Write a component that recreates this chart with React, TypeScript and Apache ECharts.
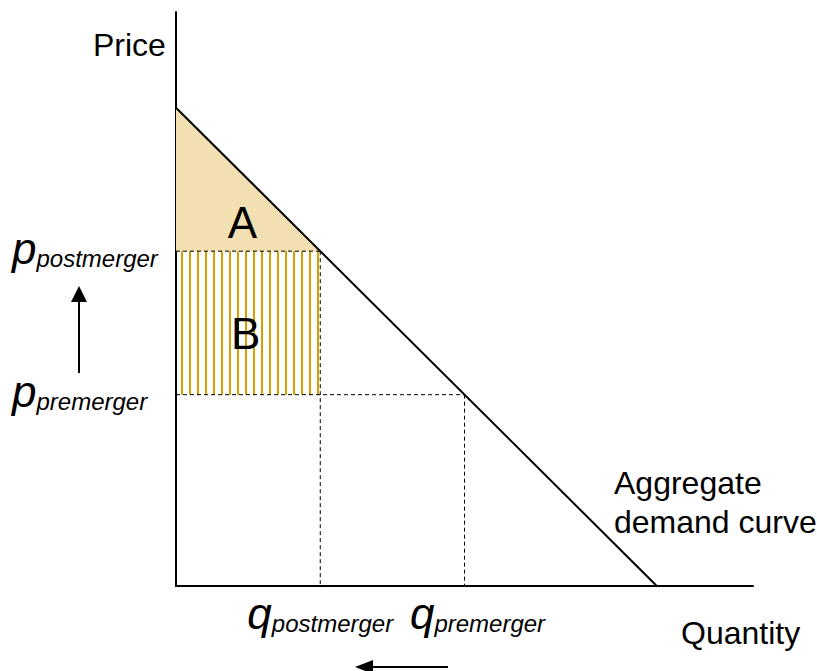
import React, { useEffect, useRef } from 'react';
import * as echarts from 'echarts';

// ---- data (model units) ----
const demandCurve: number[][] = [[0, 10], [10, 0]];
const axisMax = 12;
const priceLabels: Record<number, string> = { 4: 'premerger', 7: 'postmerger' };
const quantityLabels: Record<number, string> = { 3: 'postmerger', 6: 'premerger' };
const areaA: number[][] = [[0, 10], [3, 7], [0, 7]];
const areaB: number[][] = [[0, 7], [3, 4]];
const dashedSegments: number[][][] = [
  [[0, 7], [3, 7]],
  [[3, 7], [3, 0]],
  [[0, 4], [6, 4]],
  [[6, 4], [6, 0]],
];
const areaNames = ['A', 'B'];
const areaNamePos: number[][] = [[1.38, 7.6], [1.45, 5.27]];

const FONT = '"Liberation Sans", Arial, Helvetica, sans-serif';
const FILL_A = '#F2E0B3';
const HATCH = '#D4A000';

export default function App() {
  const ref = useRef<HTMLDivElement>(null);
  useEffect(() => {
    if (!ref.current) return;
    const chart = echarts.init(ref.current, undefined, { renderer: 'svg' });

    const mainStyle = { fontSize: 44, fontStyle: 'italic', fontFamily: FONT, color: '#000', lineHeight: 44 };
    const subStyle = { fontSize: 24, fontStyle: 'italic', fontFamily: FONT, color: '#000', lineHeight: 24, verticalAlign: 'bottom' };

    const option: any = {
      animation: false,
      backgroundColor: '#fff',
      grid: { left: 176, top: 12, width: 577, height: 574, containLabel: false },
      xAxis: {
        type: 'value', min: 0, max: axisMax, interval: 1,
        axisLine: { show: true, onZero: false, lineStyle: { color: '#000', width: 2 } },
        axisTick: { show: false },
        splitLine: { show: false },
        axisLabel: {
          margin: 5,
          formatter: (v: number) => {
            const s = quantityLabels[v];
            if (!s) return '';
            return (v === 6 ? '{g| }' : '') + `{m|q}{s|${s}}`;
          },
          rich: { m: mainStyle, s: subStyle, g: { width: 26, fontSize: 10 } },
        },
      },
      yAxis: {
        type: 'value', min: 0, max: axisMax, interval: 1,
        axisLine: { show: true, onZero: false, lineStyle: { color: '#000', width: 2 } },
        axisTick: { show: false },
        splitLine: { show: false },
        axisLabel: {
          margin: 164,
          align: 'left',
          formatter: (v: number) => {
            const s = priceLabels[v];
            if (!s) return '';
            return `{m|p}{s|${s}}` + '\n{g| }';
          },
          rich: { m: mainStyle, s: subStyle, g: { fontSize: 4, lineHeight: 6 } },
        },
      },
      series: [
        {
          type: 'custom', name: 'A', silent: true, z: 1,
          data: [0],
          renderItem: (_p: any, api: any) => ({
            type: 'polygon',
            shape: { points: areaA.map((pt) => api.coord(pt)) },
            style: { fill: FILL_A },
          }),
        },
        {
          type: 'custom', name: 'B', silent: true, z: 1,
          data: [0],
          renderItem: (_p: any, api: any) => {
            const p1 = api.coord(areaB[0]);
            const p2 = api.coord(areaB[1]);
            const children: any[] = [];
            for (let x = Math.round(p1[0]) + 6; x <= p2[0] - 1; x += 8) {
              children.push({
                type: 'line',
                shape: { x1: x, y1: p1[1], x2: x, y2: p2[1] },
                style: { stroke: HATCH, lineWidth: 2 },
              });
            }
            return { type: 'group', children };
          },
        },
        ...dashedSegments.map((seg) => ({
          type: 'line', silent: true, z: 3,
          data: seg, symbol: 'none',
          lineStyle: { color: '#000', width: 1, type: [4, 3] },
        })),
        {
          type: 'line', name: 'Demand', silent: true, z: 4,
          data: demandCurve, symbol: 'none',
          lineStyle: { color: '#000', width: 2 },
        },
        {
          type: 'custom', name: 'labels', silent: true, z: 5,
          data: areaNames.map((_, i) => i),
          renderItem: (p: any, api: any) => {
            const i = p.dataIndex;
            const c = api.coord(areaNamePos[i]);
            return {
              type: 'text', x: c[0], y: c[1],
              style: { text: areaNames[i], fontSize: 44, fontFamily: FONT, fill: '#000', align: 'center', verticalAlign: 'middle' },
            };
          },
        },
      ],
      graphic: [
        { type: 'text', x: 93, y: 45, style: { text: 'Price', fontSize: 32, fontFamily: FONT, fill: '#000', verticalAlign: 'middle' } },
        { type: 'text', x: 681, y: 633, style: { text: 'Quantity', fontSize: 32, fontFamily: FONT, fill: '#000', verticalAlign: 'middle' } },
        { type: 'text', x: 614, y: 502, style: { text: 'Aggregate\ndemand curve', fontSize: 32, lineHeight: 39, fontFamily: FONT, fill: '#000', verticalAlign: 'middle' } },
        { type: 'line', shape: { x1: 79, y1: 373, x2: 79, y2: 298 }, style: { stroke: '#000', lineWidth: 2 } },
        { type: 'polygon', shape: { points: [[79, 286], [71, 302], [87, 302]] }, style: { fill: '#000' } },
        { type: 'line', shape: { x1: 448, y1: 667, x2: 368, y2: 667 }, style: { stroke: '#000', lineWidth: 2 } },
        { type: 'polygon', shape: { points: [[355, 667], [373, 660], [373, 674]] }, style: { fill: '#000' } },
      ],
    };
    chart.setOption(option);
    return () => chart.dispose();
  }, []);
  return <div ref={ref} style={{ position: 'absolute', left: 0, top: 0, width: 817, height: 671 }} />;
}
